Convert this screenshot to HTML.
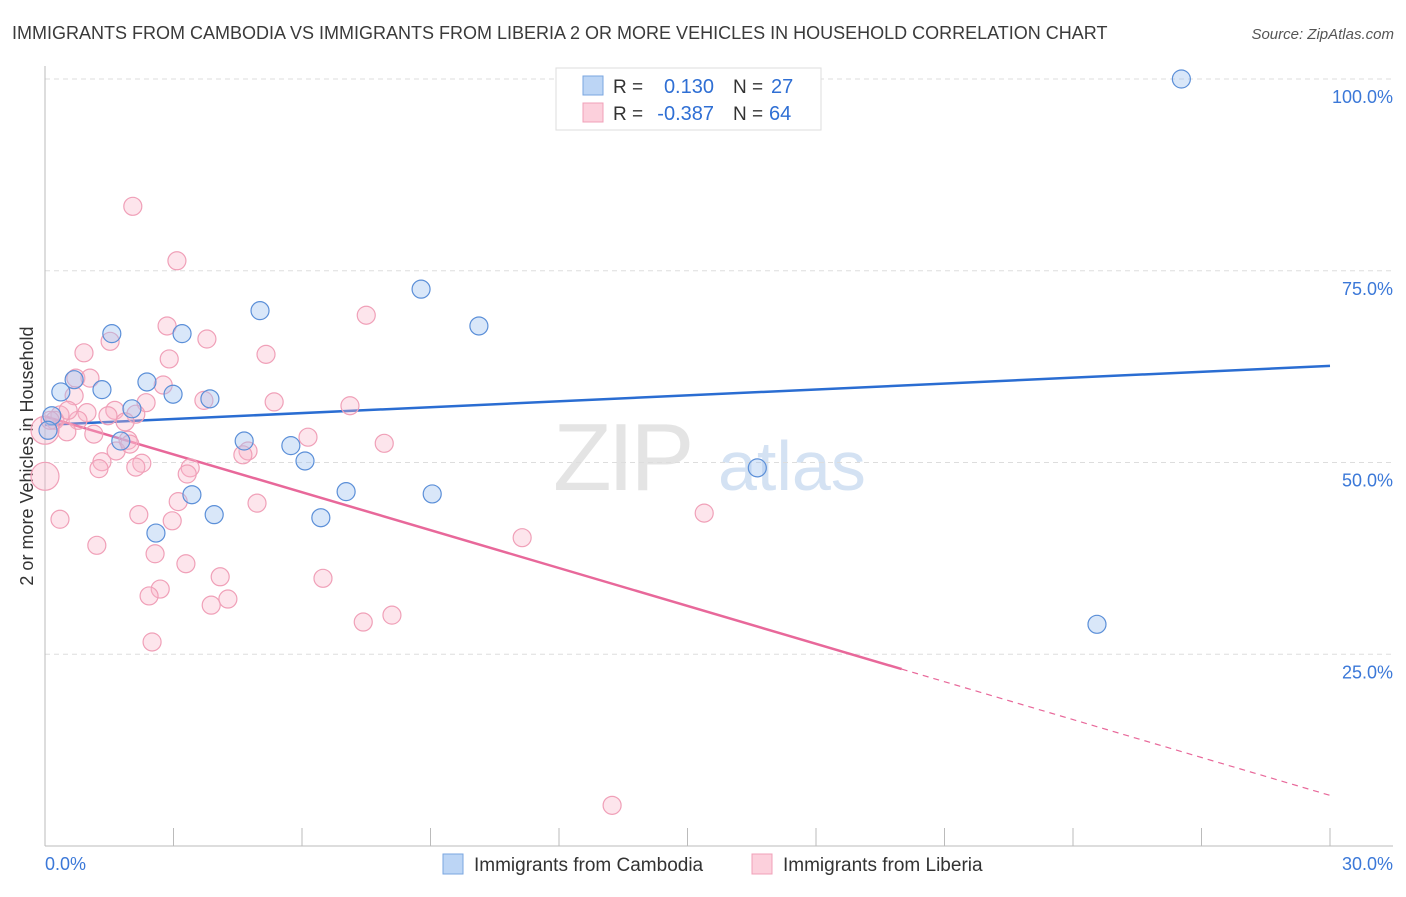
<!DOCTYPE html>
<html><head><meta charset="utf-8"><style>
body{margin:0;background:#fff;font-family:"Liberation Sans",sans-serif;}
svg text{font-family:"Liberation Sans",sans-serif;}
</style></head><body>
<svg id="chart" width="1406" height="892" xmlns="http://www.w3.org/2000/svg">
<text x="12" y="39" font-size="18" fill="#3a3a3a">IMMIGRANTS FROM CAMBODIA VS IMMIGRANTS FROM LIBERIA 2 OR MORE VEHICLES IN HOUSEHOLD CORRELATION CHART</text>
<text x="1394" y="39" font-size="15" fill="#555" text-anchor="end" font-style="italic">Source: ZipAtlas.com</text>
<text transform="translate(33,456) rotate(-90)" font-size="18" fill="#333" text-anchor="middle">2 or more Vehicles in Household</text>
<g><text x="553" y="490" font-size="96" fill="#e4e4e4" font-family="Liberation Serif" letter-spacing="-4">ZIP</text><text x="718" y="490" font-size="70" fill="#d4e2f3">atlas</text></g>
<g id="grid"></g><g id="axes"></g><g id="lines"></g><g id="points"></g>
<g>
<rect x="556" y="68" width="265" height="62" fill="#fff" stroke="#ddd"/>
<rect x="583" y="76" width="20" height="19" fill="#bcd5f5" stroke="#7aa6e0"/>
<rect x="583" y="103" width="20" height="19" fill="#fcd0dc" stroke="#f0a0b8"/>
<text x="613" y="93" font-size="19" fill="#333">R =</text><text x="714" y="93" font-size="20" fill="#2f6fd4" text-anchor="end">0.130</text>
<text x="733" y="93" font-size="19" fill="#333">N =</text><text x="771" y="93" font-size="20" fill="#2f6fd4">27</text>
<text x="613" y="120" font-size="19" fill="#333">R =</text><text x="714" y="120" font-size="20" fill="#2f6fd4" text-anchor="end">-0.387</text>
<text x="733" y="120" font-size="19" fill="#333">N =</text><text x="769" y="120" font-size="20" fill="#2f6fd4">64</text>
</g>
<g>
<rect x="443" y="854" width="20" height="20" fill="#bcd5f5" stroke="#7aa6e0"/>
<text x="474" y="871" font-size="19" fill="#333">Immigrants from Cambodia</text>
<rect x="752" y="854" width="20" height="20" fill="#fcd0dc" stroke="#f0a0b8"/>
<text x="783" y="871" font-size="19" fill="#333">Immigrants from Liberia</text>
</g>
</svg>
<script>
const cambX=[26.53,8.78,10.13,5.02,1.56,3.20,2.38,2.99,3.85,0.37,1.33,0.68,2.03,0.16,1.77,4.65,5.74,6.07,16.63,7.03,9.04,3.43,3.95,6.44,2.59,24.56,0.07];
const cambY=[100,72.6,67.8,69.8,66.8,66.8,60.5,58.9,58.3,59.2,59.5,60.8,57.0,56.1,52.8,52.8,52.2,50.2,49.3,46.2,45.9,45.8,43.2,42.8,40.8,28.9,54.2];
const libX=[2.05,3.08,7.50,2.85,3.78,1.52,0.91,5.16,2.90,0.72,1.05,2.76,0.68,3.71,5.35,2.36,7.12,0.35,0.98,1.63,2.12,1.47,0.23,0.77,0.51,1.14,1.87,1.94,6.14,7.92,1.66,4.74,4.62,1.33,2.26,1.26,3.39,2.12,3.32,0.35,2.19,2.97,1.21,3.11,4.95,11.14,15.39,2.57,3.29,4.09,6.49,2.69,2.43,4.27,3.88,7.43,8.10,2.50,13.24,0,0,0.12,1.98,0.54];
const libY=[83.4,76.3,69.2,67.8,66.1,65.8,64.3,64.1,63.5,61.0,61.0,60.1,58.7,58.1,57.9,57.8,57.4,56.2,56.5,56.8,56.3,56.1,55.5,55.5,54.0,53.7,55.3,52.9,53.3,52.5,51.5,51.5,51.0,50.1,49.9,49.2,49.3,49.4,48.5,42.6,43.2,42.4,39.2,44.9,44.7,40.2,43.4,38.1,36.8,35.1,34.9,33.5,32.6,32.2,31.4,29.2,30.1,26.6,5.3,48.2,54.2,55.5,52.4,56.8];
const bigLib=[59,60];
const cambTrend=[54.9,62.6];
const libTrend=[56.0,6.6];
const libSolidEnd=20.0;
const yTicks=[25,50,75,100];
const yTickLabels=["25.0%","50.0%","75.0%","100.0%"];
const xTickCount=10;
const NS="http://www.w3.org/2000/svg";
const X=v=>45+v/30*1285, Y=v=>846-v*7.67;
function mk(p,t,a){const e=document.createElementNS(NS,t);for(const k in a)e.setAttribute(k,a[k]);document.getElementById(p).appendChild(e);return e;}
yTicks.forEach((t,i)=>{
 const g=mk('grid','line',{x1:45,x2:1393,y1:Y(t),y2:Y(t),stroke:'#ddd','stroke-dasharray':'5,4'});
 
 
 const l=mk('axes','text',{x:1393,y:Y(t)+24,'font-size':18,fill:'#3b78d8','text-anchor':'end'});
 l.textContent=yTickLabels[i];
 
 
});
const ax=mk('axes','line',{x1:45,x2:45,y1:66,y2:846,stroke:'#bbb'});


const bx=mk('axes','line',{x1:45,x2:1393,y1:846,y2:846,stroke:'#bbb'});


for(let i=1;i<=xTickCount;i++){const t=mk('axes','line',{x1:X(i*3),x2:X(i*3),y1:828,y2:846,stroke:'#bbb'});
 
 }
const x0=mk('axes','text',{x:45,y:870,'font-size':18,fill:'#3b78d8'});x0.textContent='0.0%';


const x1=mk('axes','text',{x:1393,y:870,'font-size':18,fill:'#3b78d8','text-anchor':'end'});x1.textContent='30.0%';


libX.forEach((x,i)=>{const big=bigLib.includes(i);const c=mk('points','circle',{cx:X(x),cy:Y(libY[i]),r:big?14:9,fill:'rgba(248,180,200,0.35)',stroke:'#f0a0b8','stroke-width':1.2});
 
 });
cambX.forEach((x,i)=>{const c=mk('points','circle',{cx:X(x),cy:Y(cambY[i]),r:9,fill:'rgba(160,195,240,0.4)',stroke:'#5b8fd8','stroke-width':1.2});
 
 });
const bl=mk('lines','line',{x1:X(0),y1:Y(cambTrend[0]),x2:X(30),y2:Y(cambTrend[1]),stroke:'#2a6dd2','stroke-width':2.5});


const ly=v=>libTrend[0]+(libTrend[1]-libTrend[0])*v/30;
const pl=mk('lines','line',{x1:X(0),y1:Y(libTrend[0]),x2:X(libSolidEnd),y2:Y(ly(libSolidEnd)),stroke:'#e8689a','stroke-width':2.5});


const pd=mk('lines','line',{x1:X(libSolidEnd),y1:Y(ly(libSolidEnd)),x2:X(30),y2:Y(libTrend[1]),stroke:'#e8689a','stroke-width':1.2,'stroke-dasharray':'6,5'});


</script>
</body></html>
